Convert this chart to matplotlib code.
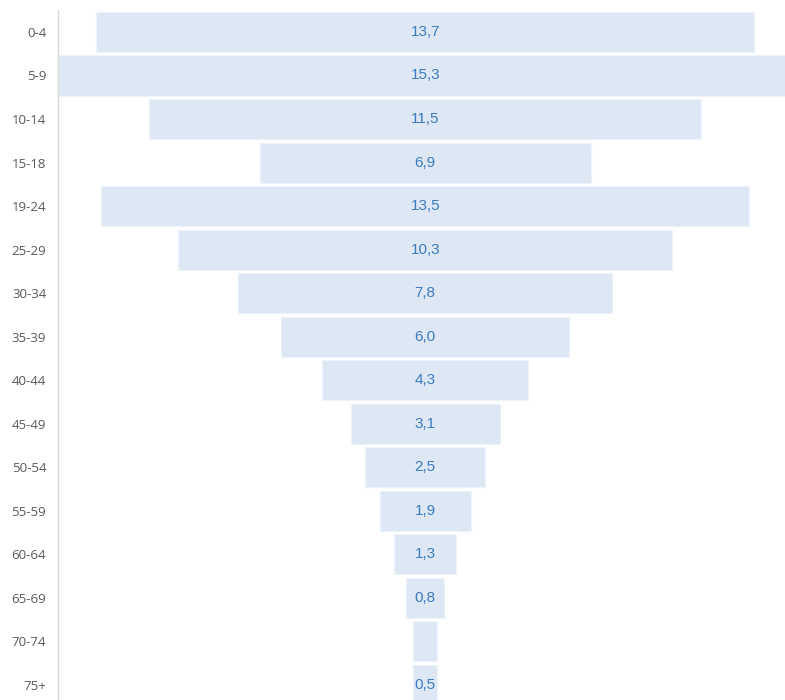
import matplotlib
matplotlib.use("Agg")
import matplotlib.pyplot as plt
import numpy as np

# Age groups and population share (%)
age_groups = ["0-4", "5-9", "10-14", "15-18", "19-24", "25-29", "30-34", "35-39",
              "40-44", "45-49", "50-54", "55-59", "60-64", "65-69", "70-74", "75+"]
shares = [13.7, 15.3, 11.5, 6.9, 13.5, 10.3, 7.8, 6.0,
          4.3, 3.1, 2.5, 1.9, 1.3, 0.8, 0.5, 0.5]
# Groups whose value is printed on the bar
show_label = [True] * 14 + [False, True]

W, H = 785, 700
fig = plt.figure(figsize=(W / 100, H / 100), dpi=100)
fig.patch.set_facecolor("white")

# Axes extends slightly past the right and bottom edges of the figure
left_px, top_px = 58, 10.2
px_per_unit = 48.0
n = len(age_groups)
row_px = 43.53
xmax = max(shares)
ax_w = xmax * px_per_unit
ax_h = n * row_px
ax = fig.add_axes([left_px / W, 1 - (top_px + ax_h) / H, ax_w / W, ax_h / H])

vals = np.array(shares)
offsets = (xmax - vals) / 2
y = np.arange(n)
ax.barh(y, vals, left=offsets, height=0.92, color="#DDE8F4",
        edgecolor="#EEF3FA", linewidth=0.8)

for yi, v, off, show in zip(y, vals, offsets, show_label):
    if show:
        ax.text(off + v / 2, yi, f"{v:.1f}".replace(".", ","),
                ha="center", va="center", fontsize=11, color="#3B7BC0",
                family="Liberation Sans")

ax.set_xlim(0, xmax)
ax.set_ylim(n - 0.5, -0.5)
ax.set_yticks(y)
ax.set_yticklabels(age_groups, fontsize=9.5, color="#595959", family="Open Sans")
ax.tick_params(axis="y", length=0, pad=8.5)
ax.set_xticks([])
for side in ["top", "right", "bottom"]:
    ax.spines[side].set_visible(False)
ax.spines["left"].set_color("#D9D9D9")
ax.spines["left"].set_linewidth(1.0)

fig.savefig("out.png", dpi=100, facecolor="white")
